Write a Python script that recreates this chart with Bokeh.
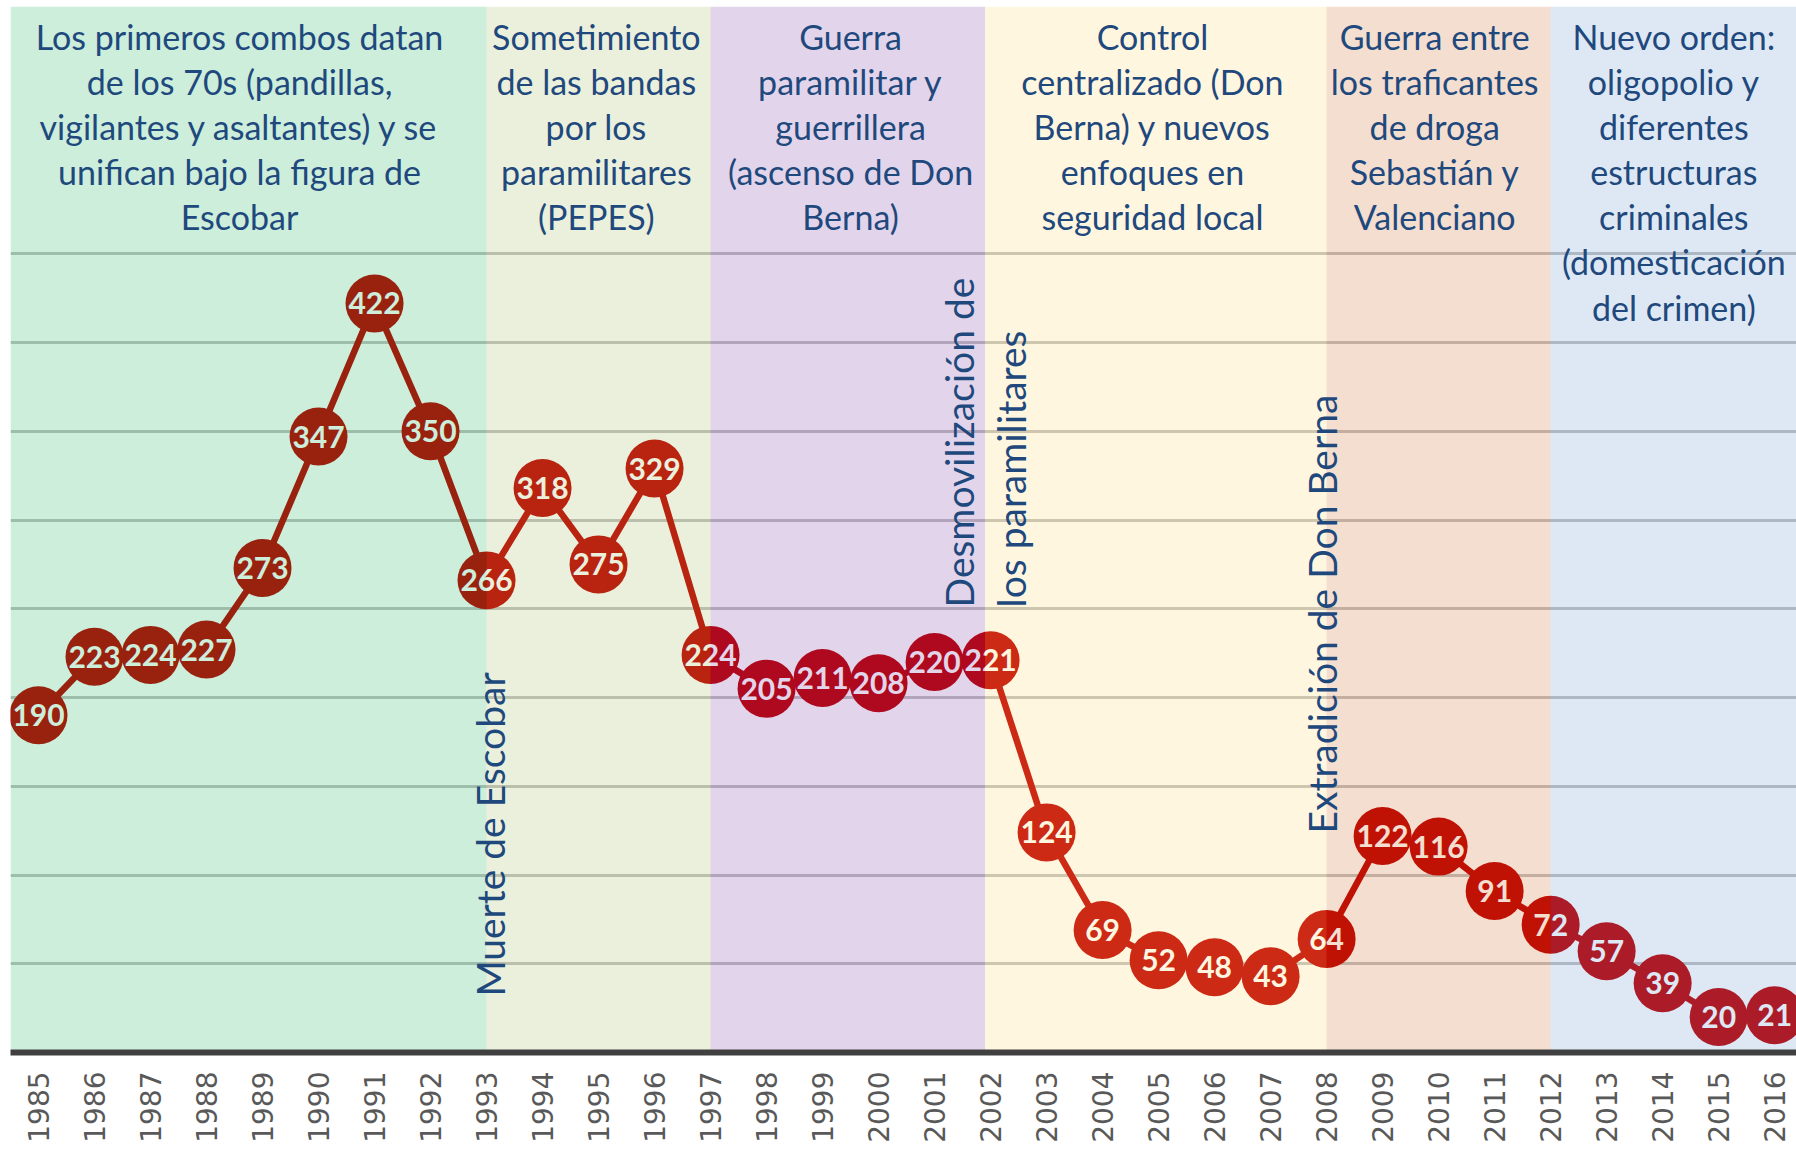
import math
from bokeh.plotting import figure
from bokeh.models import Range1d, FixedTicker, ColumnDataSource
from bokeh.core.properties import value
from bokeh.embed import file_html
from bokeh.resources import INLINE

# ---------------- data ----------------
years = [1985, 1986, 1987, 1988, 1989, 1990, 1991, 1992, 1993, 1994, 1995,
         1996, 1997, 1998, 1999, 2000, 2001, 2002, 2003, 2004, 2005, 2006,
         2007, 2008, 2009, 2010, 2011, 2012, 2013, 2014, 2015, 2016]
homicides = [190, 223, 224, 227, 273, 347, 422, 350, 266, 318, 275,
             329, 224, 205, 211, 208, 220, 221, 124, 69, 52, 48,
             43, 64, 122, 116, 91, 72, 57, 39, 20, 21]
year_labels = ["1985", "1986", "1987", "1988", "1989", "1990", "1991", "1992",
               "1993", "1994", "1995", "1996", "1997", "1998", "1999", "2000",
               "2001", "2002", "2003", "2004", "2005", "2006", "2007", "2008",
               "2009", "2010", "2011", "2012", "2013", "2014", "2015", "2016"]
grid_values = [50, 100, 150, 200, 250, 300, 350, 400, 450]

zone_start = [1984.5, 1993, 1997, 2001.9, 2008, 2012]
zone_end = [1993, 1997, 2001.9, 2008, 2012, 2016.6]
zone_colors = ["#00AA4B", "#9BB450", "#6E2D9B", "#FFD264", "#C35A14", "#5A8CC8"]
zone_titles = [
    "Los primeros combos datan\nde los 70s (pandillas,\nvigilantes y asaltantes) y se\nunifican bajo la figura de\nEscobar",
    "Sometimiento\nde las bandas\npor los\nparamilitares\n(PEPES)",
    "Guerra\nparamilitar y\nguerrillera\n(ascenso de Don\nBerna)",
    "Control\ncentralizado (Don\nBerna) y nuevos\nenfoques en\nseguridad local",
    "Guerra entre\nlos traficantes\nde droga\nSebastián y\nValenciano",
    "Nuevo orden:\noligopolio y\ndiferentes\nestructuras\ncriminales\n(domesticación\ndel crimen)",
]
title_x = [1988.59, 1994.96, 1999.50, 2004.89, 2009.93, 2014.20]

events = ["Muerte de Escobar", "Desmovilización de", "los paramilitares",
          "Extradición de Don Berna"]
event_x = [1993.07, 2001.43, 2002.36, 2007.91]
event_y = [31.5, 250.7, 250.7, 123.4]

# ---------------- figure ----------------
Y_TOP = 589.3
p = figure(width=1796, height=1145,
           x_range=Range1d(1984.5, 2016.39), y_range=Range1d(0, Y_TOP),
           output_backend="svg", toolbar_location=None, y_axis_location=None,
           min_border_left=10, min_border_right=0, min_border_top=6,
           min_border_bottom=93, outline_line_color=None,
           background_fill_color="white", border_fill_color="white")

p.xgrid.visible = False
p.ygrid.ticker = FixedTicker(ticks=grid_values)
p.ygrid.grid_line_color = "#C4C4C4"
p.ygrid.grid_line_width = 3

p.xaxis.ticker = FixedTicker(ticks=years)
p.xaxis.major_label_overrides = dict(zip(years, year_labels))
p.xaxis.major_label_orientation = math.pi / 2
p.xaxis.major_label_text_font = "DejaVu Sans"
p.xaxis.major_label_text_font_size = "28px"
p.xaxis.major_label_text_color = "#595959"
p.xaxis.major_label_standoff = 13
p.xaxis.major_tick_line_color = None
p.xaxis.minor_tick_line_color = None
p.xaxis.axis_line_color = "#404040"
p.xaxis.axis_line_width = 6

src = ColumnDataSource(dict(x=years, y=homicides, t=[str(v) for v in homicides]))
p.line("x", "y", source=src, line_color="#C00000", line_width=6.5)
p.scatter("x", "y", source=src, size=58, fill_color="#C00000", line_color=None)
p.text("x", "y", text="t", source=src, text_font=value("Lato"),
       text_font_style="bold", text_font_size="30px", text_color="white",
       text_align="center", text_baseline="middle")

# translucent period overlays (drawn over the data, as in the original)
zsrc = ColumnDataSource(dict(l=zone_start, r=zone_end, c=zone_colors))
p.quad(left="l", right="r", bottom=0, top=Y_TOP, source=zsrc,
       fill_color="c", fill_alpha=0.2, line_color=None)

# period headers
tsrc = ColumnDataSource(dict(x=title_x, y=[584] * len(title_x), t=zone_titles))
p.text("x", "y", text="t", source=tsrc, text_font=value("Lato"),
       text_font_size="34px", text_color="#1F497D", text_align="center",
       text_baseline="top", text_line_height=1.1)

# event annotations (vertical)
esrc = ColumnDataSource(dict(x=event_x, y=event_y, t=events))
p.text("x", "y", text="t", source=esrc, angle=math.pi / 2,
       text_font=value("Lato"), text_font_size="39px", text_color="#1F497D",
       text_align="left", text_baseline="middle")

open("out.html", "w").write(file_html(p, INLINE))
